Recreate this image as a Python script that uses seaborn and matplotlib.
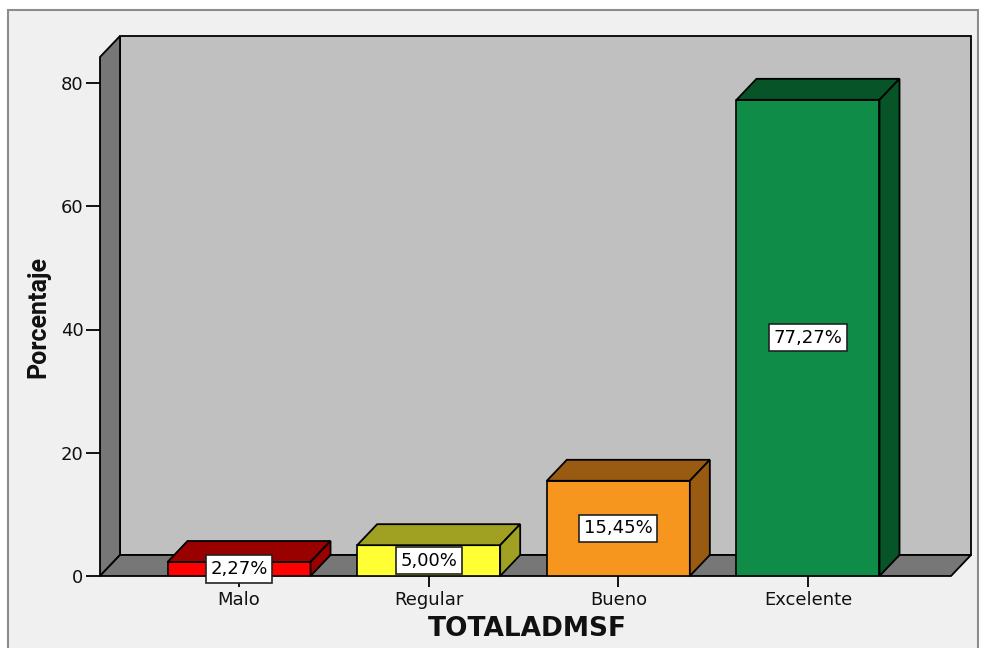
import matplotlib
matplotlib.use("Agg")
import matplotlib.pyplot as plt
from matplotlib.patches import Polygon, Rectangle
import pandas as pd
import seaborn as sns

# Data
categories = ["Malo", "Regular", "Bueno", "Excelente"]
percentages = [2.27, 5.00, 15.45, 77.27]
value_labels = ["2,27%", "5,00%", "15,45%", "77,27%"]
y_ticks = [0, 20, 40, 60, 80]

# Face colours: front faces and the darker top/side faces
front_colors = ["#FF0000", "#FFFF33", "#F7961F", "#0E8C48"]
shade_colors = ["#990000", "#A0A022", "#995A12", "#075428"]

sns.set_theme(style="ticks")
plt.rcParams["font.family"] = ["DejaVu Sans"]

W, H, DPI = 981, 648, 100
fig = plt.figure(figsize=(W / DPI, H / DPI), dpi=DPI, facecolor="white")

# Light chart frame
fig.patches.append(Rectangle((8 / W, -0.02), (978 - 8) / W, (648 - 10) / H + 0.02,
                             transform=fig.transFigure, facecolor="#F0F0F0",
                             edgecolor="#8C8C8C", linewidth=1.5, zorder=-5))

# Front plane of the 3D box (pixels): x 100..951, y 57..576
left_px, right_px, top_px, base_px = 100, 951, 57, 576
ax = fig.add_axes([left_px / W, (H - base_px) / H,
                   (right_px - left_px) / W, (base_px - top_px) / H])
ax.patch.set_alpha(0)

df = pd.DataFrame({"TOTALADMSF": categories, "Porcentaje": percentages})
sns.barplot(data=df, x="TOTALADMSF", y="Porcentaje", hue="TOTALADMSF",
            palette=front_colors, saturation=1, width=0.754,
            edgecolor="black", linewidth=1.2, legend=False, ax=ax, zorder=3)
bars = list(ax.patches)

px_per_unit = 6.1625
ymax = (base_px - top_px) / px_per_unit
xmin, xmax = -0.733, 3.754
ax.set_xlim(xmin, xmax)
ax.set_ylim(0, ymax)

DX, DY = 20, 21  # depth offset in pixels


def shift(x, y):
    px, py = ax.transData.transform((x, y))
    return tuple(ax.transData.inverted().transform((px + DX, py + DY)))


def face(points, color, z):
    ax.add_patch(Polygon(points, closed=True, facecolor=color, edgecolor="black",
                         linewidth=1.3, zorder=z, clip_on=False))


# Walls and floor
face([shift(xmin, 0), shift(xmax, 0), shift(xmax, ymax), shift(xmin, ymax)], "#C0C0C0", 0.5)
face([(xmin, 0), (xmin, ymax), shift(xmin, ymax), shift(xmin, 0)], "#777777", 0.6)
face([(xmin, 0), (xmax, 0), shift(xmax, 0), shift(xmin, 0)], "#777777", 0.6)

# Top and side faces of the bars
for bar in bars:
    x0 = bar.get_x()
    x1 = x0 + bar.get_width()
    h = bar.get_height()
    idx = int(round(x0 + bar.get_width() / 2))
    c = shade_colors[idx]
    face([(x0, h), (x1, h), shift(x1, h), shift(x0, h)], c, 3)
    face([(x1, 0), (x1, h), shift(x1, h), shift(x1, 0)], c, 3)

# Value labels in white boxes at mid-height
for i, (v, lab) in enumerate(zip(percentages, value_labels)):
    ax.text(i, v / 2, lab, ha="center", va="center", fontsize=13, color="black",
            zorder=6, bbox=dict(boxstyle="square,pad=0.25", facecolor="white",
                                edgecolor="#222222", linewidth=1.2))

for s in ax.spines.values():
    s.set_visible(False)

ax.set_yticks(y_ticks)
ax.set_yticklabels([str(t) for t in y_ticks])
ax.tick_params(axis="y", left=True, length=10, width=1.3, pad=2,
               labelsize=13, color="black", labelcolor="#111111", direction="out")
ax.tick_params(axis="x", bottom=True, length=8, width=1.3, pad=3,
               labelsize=13, color="black", labelcolor="#111111", direction="out")

ax.set_xlabel("TOTALADMSF", fontsize=19, fontweight="bold", color="#111111", va="center")
ax.xaxis.set_label_coords((527 - left_px) / (right_px - left_px),
                          (base_px - 629) / (base_px - top_px))
ax.set_ylabel("Porcentaje", fontsize=18, fontweight="bold", color="#111111",
              family=["Roboto", "DejaVu Sans"], va="center")
ax.yaxis.set_label_coords((38 - left_px) / (right_px - left_px), 0.5)

fig.savefig("out.png", dpi=DPI, facecolor=fig.get_facecolor())
